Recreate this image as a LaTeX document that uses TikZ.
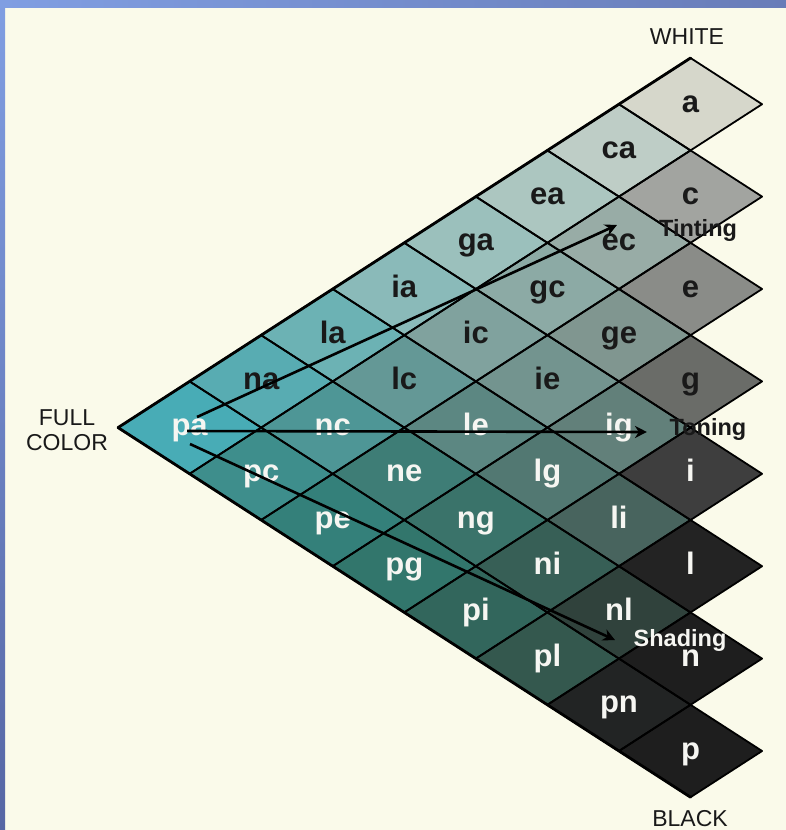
\documentclass[tikz,border=0pt]{standalone}
\usepackage{fontspec}
\setmainfont{Liberation Sans}
\usetikzlibrary{arrows.meta, calc}
\definecolor{paper}{RGB}{250,250,234}
\definecolor{slatetop}{RGB}{128,158,226}
\definecolor{slateright}{RGB}{104,124,184}
\definecolor{slatebottom}{RGB}{86,102,164}
\definecolor{ink}{RGB}{25,25,25}
\definecolor{chalk}{RGB}{246,246,242}

% cells of the triangle: i/j/label/R/G/B
\def\cells{%
  0/0/a/214/215/203, 1/0/ca/190/205/198, 2/0/ea/172/198/192, 3/0/ga/155/192/188,
  4/0/ia/138/186/185, 5/0/la/108/178/180, 6/0/na/88/172/178, 7/0/pa/72/172/182,
  1/1/c/162/164/160, 2/1/ec/152/172/166, 3/1/gc/140/170/165, 4/1/ic/128/162/158,
  5/1/lc/100/152/150, 6/1/nc/78/150/150, 7/1/pc/62/142/140,
  2/2/e/138/140/136, 3/2/ge/128/150/144, 4/2/ie/115/148/143, 5/2/le/92/135/130,
  6/2/ne/62/125/118, 7/2/pe/52/128/122,
  3/3/g/106/108/104, 4/3/ig/98/128/122, 5/3/lg/82/120/114, 6/3/ng/58/115/106,
  7/3/pg/50/118/108,
  4/4/i/62/62/62, 5/4/li/72/100/94, 6/4/ni/55/95/86, 7/4/pi/50/102/92,
  5/5/l/35/35/35, 6/5/nl/48/66/60, 7/5/pl/52/88/78,
  6/6/n/30/30/30, 7/6/pn/34/36/36,
  7/7/p/30/30/30}
\def\cellw{71.56}
\def\cellh{46.2}

\begin{document}
\begin{tikzpicture}[x=1pt, y=-1pt,
    cellname/.style={font=\bfseries\fontsize{31}{31}\selectfont, inner sep=0pt,
                     text height=16pt, text depth=0pt},
    grid/.style={draw=black, line width=1.8pt, line join=round},
    edge/.style={draw=black, line width=2.8pt, line cap=round},
    arrow/.style={-{Stealth[length=12pt, width=12pt]}, line width=2.6pt},
    cornerlabel/.style={font=\fontsize{23}{25}\selectfont, text=ink, align=center,
                        inner sep=0pt},
    movelabel/.style={font=\bfseries\fontsize{23.5}{24}\selectfont, inner sep=0pt,
                      anchor=base},
]

% Slide background
\useasboundingbox (0,0) rectangle (786,830);
\fill[paper] (0,0) rectangle (786,830);
\shade[left color=slatetop, right color=slateright] (0,0) rectangle (786,7);
\shade[top color=slatetop, bottom color=slatebottom] (0,0) rectangle (5,830);

% Cell fills
\foreach \i/\j/\lab/\vR/\vG/\vB in \cells {
  \pgfmathsetmacro\cx{189.6+(7-\i+\j)*\cellw}
  \pgfmathsetmacro\cy{427.6-(7-\i-\j)*\cellh}
  \definecolor{cellfill}{RGB}{\vR,\vG,\vB}
  \fill[cellfill] (\cx-\cellw,\cy) -- ++(\cellw,-\cellh) -- ++(\cellw,\cellh)
    -- ++(-\cellw,\cellh) -- cycle;
  \coordinate (c-\lab) at (\cx,\cy);
}

% Cell outlines and names
\foreach \i/\j/\lab/\vR/\vG/\vB in \cells {
  \pgfmathtruncatemacro\s{\i+\j}
  \ifnum\s<7 \def\tc{ink}\else\def\tc{chalk}\fi
  \draw[grid] ($(c-\lab)+(-\cellw,0)$) -- ++(\cellw,-\cellh) -- ++(\cellw,\cellh)
    -- ++(-\cellw,\cellh) -- cycle;
  \node[cellname, text=\tc] (\lab) at (c-\lab) {\lab};
}

% Outer edges
\draw[edge] ($(c-pa)+(-\cellw,0)$) -- ($(c-a)+(0,-\cellh)$);
\draw[edge] ($(c-pa)+(-\cellw,0)$) -- ($(c-p)+(0,\cellh)$);

% Corner labels
\node[cornerlabel] (white) at (687,37) {WHITE};
\node[cornerlabel, anchor=base] (black) at (690,826) {BLACK};
\node[cornerlabel] (fullcolor) at (67,430) {FULL\\COLOR};

% Arrows
\draw[arrow] ([shift={(7.4,-10.6)}]pa.center) -- ([shift={(-2,-17.8)}]ec.center);
\draw[arrow] ([shift={(-2.6,3.4)}]pa.center) -- ([shift={(28,4.4)}]ig.center);
\draw[arrow] ([shift={(0.4,16.4)}]pa.center) -- ([shift={(-4,27.6)}]nl.center);

\node[movelabel, text=ink] (tinting) at (698,236.7) {Tinting};
\node[movelabel, text=ink] (toning) at (708,435) {Toning};
\node[movelabel, text=chalk] (shading) at (680,646) {Shading};

\end{tikzpicture}
\end{document}
